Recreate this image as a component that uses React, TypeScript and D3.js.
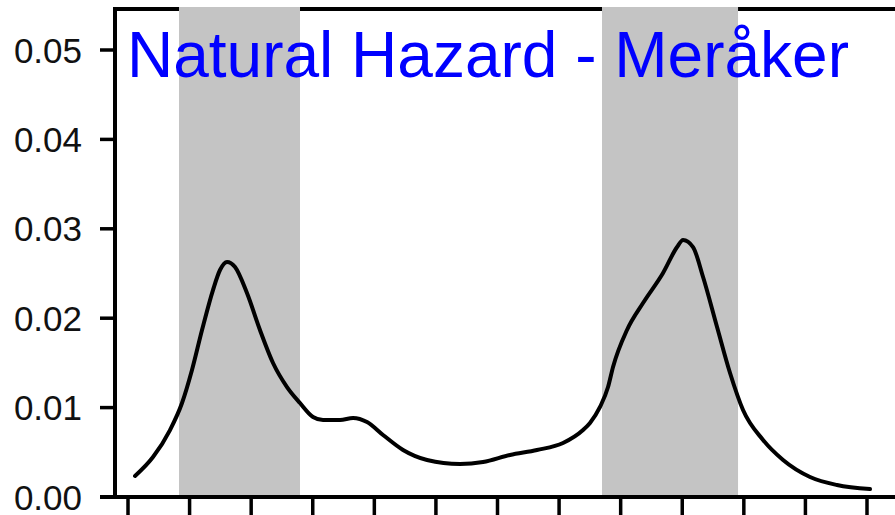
import React from "react";
import * as d3 from "d3";

const monthTicks = [0, 1, 2, 3, 4, 5, 6, 7, 8, 9, 10, 11, 12];
const yTicks = [0, 0.01, 0.02, 0.03, 0.04, 0.05];
const yTickLabels = ["0.00", "0.01", "0.02", "0.03", "0.04", "0.05"];
const bandStarts = [0.828, 7.697];
const bandEnds = [2.793, 9.906];
const title = "Natural Hazard - Meråker";

const curveX = [
  0.114, 0.406, 0.682, 0.877, 1.039, 1.202, 1.38, 1.494, 1.608, 1.738, 1.932, 2.143, 2.355, 2.582,
  2.793, 3.004, 3.167, 3.443, 3.654, 3.881, 4.141, 4.466, 4.856, 5.391, 5.765, 6.203, 6.642, 7.064,
  7.389, 7.502, 7.665, 7.795, 7.876, 8.103, 8.363, 8.688, 8.916, 9.013, 9.175, 9.338, 9.565, 9.776,
  9.987, 10.312, 10.637, 11.075, 11.513, 12.049,
];
const curveY = [
  0.00235, 0.00447, 0.00749, 0.01051, 0.01421, 0.01868, 0.02315, 0.02539, 0.02629, 0.02573, 0.02282,
  0.01868, 0.01499, 0.0123, 0.01051, 0.00895, 0.00861, 0.00861, 0.00884, 0.00839, 0.00694, 0.00526,
  0.00414, 0.00369, 0.00391, 0.0047, 0.00526, 0.00604, 0.00749, 0.00828, 0.01007, 0.0123, 0.01454,
  0.01868, 0.0217, 0.02506, 0.02796, 0.02875, 0.02796, 0.02461, 0.01902, 0.01387, 0.00973, 0.00638,
  0.00414, 0.00224, 0.00134, 0.00089,
];

export default function App() {
  const W = 895;
  const H = 515;
  const left = 115;
  const top = 8;
  const bottom = 497;
  const x = d3.scaleLinear().domain([0, 12]).range([128, 867]);
  const y = d3.scaleLinear().domain([0, 0.05]).range([bottom, 50]);
  const pts: [number, number][] = curveX.map((v, i) => [v, curveY[i]]);
  const line = d3
    .line<[number, number]>()
    .x((d) => x(d[0]))
    .y((d) => y(d[1]))
    .curve(d3.curveMonotoneX);

  return (
    <svg
      width={W}
      height={H}
      style={{ position: "absolute", left: 0, top: 0, display: "block", background: "#fff" }}
    >
      <rect x={0} y={0} width={W} height={H} fill="#fff" />
      <line x1={left} x2={W} y1={top + 1} y2={top + 1} stroke="#000" strokeWidth={4} />
      {bandStarts.map((s, i) => (
        <rect
          key={i}
          x={x(s)}
          y={top - 1}
          width={x(bandEnds[i]) - x(s)}
          height={bottom - top + 1}
          fill="#c4c4c4"
        />
      ))}
      <line x1={left} x2={left} y1={top - 1} y2={bottom + 2} stroke="#000" strokeWidth={4} />
      <line x1={100} x2={W} y1={bottom} y2={bottom} stroke="#000" strokeWidth={4} />
      {yTicks.map((t, i) => (
        <g key={t}>
          <line x1={100} x2={left} y1={y(t)} y2={y(t)} stroke="#000" strokeWidth={3.5} />
          <text
            x={82}
            y={y(t)}
            textAnchor="end"
            dominantBaseline="central"
            fontFamily="Liberation Sans, Arial, sans-serif"
            fontSize={35}
            fill="#111"
          >
            {yTickLabels[i]}
          </text>
        </g>
      ))}
      {monthTicks.map((t) => (
        <line key={t} x1={x(t)} x2={x(t)} y1={bottom} y2={H + 2} stroke="#000" strokeWidth={3.5} />
      ))}
      <path d={line(pts) || ""} fill="none" stroke="#000" strokeWidth={4} strokeLinejoin="round" strokeLinecap="round" />
      <text
        x={127}
        y={77}
        fontFamily="Liberation Sans, Arial, sans-serif"
        fontSize={64}
        fill="#0000ff"
      >
        {title}
      </text>
    </svg>
  );
}
